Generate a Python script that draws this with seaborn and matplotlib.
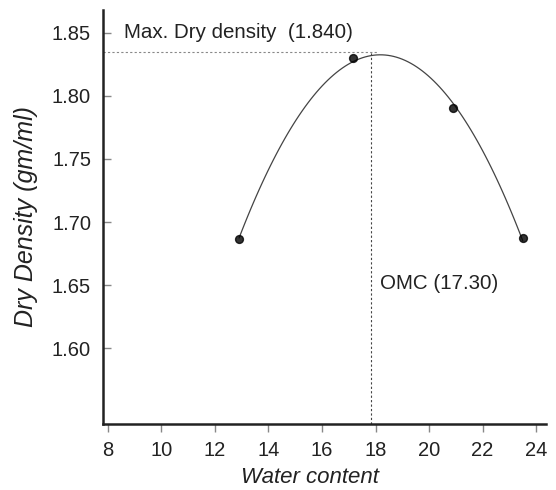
import matplotlib
matplotlib.use("Agg")
import matplotlib.pyplot as plt
import seaborn as sns
import numpy as np
import pandas as pd

water_content = [12.9, 17.15, 20.9, 23.5]
dry_density = [1.6865, 1.830, 1.790, 1.687]
omc_x = 17.83
mdd_y = 1.835
x_ticks = [8, 10, 12, 14, 16, 18, 20, 22, 24]
y_ticks = [1.60, 1.65, 1.70, 1.75, 1.80, 1.85]

sns.set_style("ticks")
plt.rcParams['font.family'] = ['Liberation Sans', 'DejaVu Sans']

df = pd.DataFrame({"w": water_content, "d": dry_density})

fig = plt.figure(figsize=(5.56, 4.90), dpi=100)
ax = fig.add_axes([0.185, 0.1347, 0.797, 0.845])

sns.regplot(data=df, x="w", y="d", order=2, ci=None, truncate=True, ax=ax,
            scatter_kws=dict(color="black", s=32, zorder=3),
            line_kws=dict(color="#444444", lw=0.9))

ax.set_xlim(7.81, 24.37)
ax.set_ylim(1.54, 1.868)
ax.set_xticks(x_ticks)
ax.set_yticks(y_ticks)
ax.set_yticklabels([f"{v:.2f}" for v in y_ticks])

ax.plot([7.81, omc_x + 0.25], [mdd_y, mdd_y], ls=(0, (2, 2)), color="#888888", lw=0.8)
ax.plot([omc_x, omc_x], [1.54, mdd_y], ls=(0, (2, 2)), color="#444444", lw=0.8)

ax.text(8.6, 1.8505, "Max. Dry density  (1.840)", fontsize=14.8, va="center", ha="left",
        color="#222222")
ax.text(18.15, 1.6516, "OMC (17.30)", fontsize=14.8, va="center", ha="left", color="#222222")

ax.set_xlabel("Water content", fontsize=16, style="italic", labelpad=8, color="#222222")
ax.xaxis.set_label_coords(0.468, -0.105)
ax.set_ylabel("Dry Density (gm/ml)", fontsize=18, style="italic", labelpad=10, color="#222222")

for s in ["top", "right"]:
    ax.spines[s].set_visible(False)
for s in ["left", "bottom"]:
    ax.spines[s].set_linewidth(1.8)
    ax.spines[s].set_color("#222222")

ax.tick_params(axis="y", direction="in", length=6, width=1, color="#888888",
               labelsize=14.5, pad=8.5, labelcolor="#222222")
ax.tick_params(axis="x", direction="out", length=6, width=1, color="#888888",
               labelsize=14.5, pad=6, labelcolor="#222222")

fig.savefig("out.png", dpi=100)
